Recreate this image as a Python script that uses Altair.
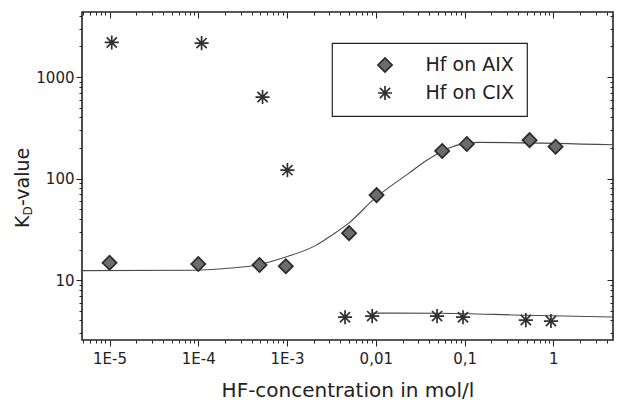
import altair as alt
import pandas as pd

# ---------------- data ----------------
series_names = ["Hf on AIX", "Hf on CIX"]

aix_x = [1.0e-5, 1.0e-4, 4.9e-4, 9.7e-4, 5.0e-3, 0.0102, 0.056, 0.106, 0.54, 1.06]
aix_y = [14.8, 14.4, 14.1, 13.7, 29.0, 68.7, 187.0, 219.0, 239.0, 206.0]

cix_x = [1.06e-5, 1.09e-4, 5.3e-4, 1.01e-3, 4.5e-3, 9.1e-3, 0.049, 0.096, 0.49, 0.94]
cix_y = [2190.0, 2160.0, 635.0, 121.0, 4.31, 4.42, 4.42, 4.31, 4.04, 3.95]

fit_aix_x = [4.9e-6, 9.1e-5, 2.0e-4, 4.9e-4, 8.9e-4, 2.14e-3, 3.24e-3, 5.0e-3,
             0.0101, 0.0142, 0.0237, 0.0368, 0.0477, 0.0668, 0.104, 0.145, 4.7]
fit_aix_y = [12.4, 12.5, 13.0, 14.2, 16.5, 22.1, 27.9, 36.6,
             65.7, 82.4, 113.0, 150.0, 172.0, 200.0, 222.0, 227.0, 215.0]

fit_cix_x = [0.0091, 0.05, 0.5, 4.7]
fit_cix_y = [4.73, 4.72, 4.5, 4.33]

x_major = [1e-5, 1e-4, 1e-3, 1e-2, 1e-1, 1]
y_major = [10, 100, 1000]

X_DOMAIN = [4.9e-6, 4.7]
Y_DOMAIN = [2.57, 4370]

x_minor = [m * 10.0 ** e for e in range(-6, 1) for m in range(2, 10)
           if X_DOMAIN[0] <= m * 10.0 ** e <= X_DOMAIN[1]]
y_minor = [m * 10.0 ** e for e in range(0, 4) for m in range(2, 10)
           if Y_DOMAIN[0] <= m * 10.0 ** e <= Y_DOMAIN[1]]

# ---------------- tables ----------------
pts = pd.DataFrame({
    "x": aix_x + cix_x,
    "y": aix_y + cix_y,
    "series": [series_names[0]] * len(aix_x) + [series_names[1]] * len(cix_x),
})
fit_a = pd.DataFrame({"x": fit_aix_x, "y": fit_aix_y})
fit_c = pd.DataFrame({"x": fit_cix_x, "y": fit_cix_y})

FONT = "DejaVu Sans"
INK = "#222222"
STAR = "M-1,0L1,0M0,-1L0,1M-0.72,-0.72L0.72,0.72M-0.72,0.72L0.72,-0.72"
DEC = "abs(log(datum.value)/LN10 - round(log(datum.value)/LN10)) < 0.001"

xs = alt.Scale(type="log", domain=X_DOMAIN, nice=False)
ys = alt.Scale(type="log", domain=Y_DOMAIN, nice=False)

bottom_axis = alt.Axis(
    values=x_major + x_minor,
    labelExpr="(" + DEC + ") ? (datum.value < 0.005 ? '1E' + round(log(datum.value)/LN10) : "
              "replace(format(datum.value, '~g'), '.', ',')) : ''",
    tickSize={"condition": {"test": DEC, "value": 6}, "value": 3},
    labelPadding=5, grid=False, domain=False, tickColor=INK,
    title="HF-concentration in mol/l", titleFontSize=20, titlePadding=14,
)
left_axis = alt.Axis(
    values=y_major + y_minor,
    labelExpr="(" + DEC + ") ? format(datum.value, 'd') : ''",
    tickSize={"condition": {"test": DEC, "value": 6}, "value": 3},
    labelPadding=2, grid=False, domain=False, tickColor=INK, title=None,
)

legend = alt.Legend(title=None)

points = alt.Chart(pts).mark_point(filled=True, size=200, strokeWidth=1.7, opacity=1).encode(
    x=alt.X("x:Q", scale=xs, axis=bottom_axis),
    y=alt.Y("y:Q", scale=ys, axis=left_axis),
    shape=alt.Shape("series:N", scale=alt.Scale(domain=series_names, range=["diamond", STAR]), legend=legend),
    fill=alt.Fill("series:N", scale=alt.Scale(domain=series_names, range=["#6c6c6c", "transparent"]), legend=legend),
    stroke=alt.Stroke("series:N", scale=alt.Scale(domain=series_names, range=["#2a2a2a", "#303030"]), legend=legend),
)

def mirror_axes(xvals, yvals, size):
    ax = alt.Axis(orient="top", values=xvals, labels=False, title=None, tickSize=size,
                  offset=-size, domain=False, grid=False, tickColor=INK)
    ay = alt.Axis(orient="right", values=yvals, labels=False, title=None, tickSize=size,
                  offset=-size, domain=False, grid=False, tickColor=INK)
    return ax, ay

ax1, ay1 = mirror_axes(x_major, y_major, 6)
ax2, ay2 = mirror_axes(x_minor, y_minor, 3)

line_a = alt.Chart(fit_a).mark_line(color="#4a4a4a", strokeWidth=1.1, interpolate="monotone").encode(
    x=alt.X("x:Q", scale=xs, axis=ax1),
    y=alt.Y("y:Q", scale=ys, axis=ay1),
)
line_c = alt.Chart(fit_c).mark_line(color="#4a4a4a", strokeWidth=1.1, interpolate="monotone").encode(
    x=alt.X("x:Q", scale=xs, axis=ax2),
    y=alt.Y("y:Q", scale=ys, axis=ay2),
)

one = pd.DataFrame({"a": [0]})
def ytitle(txt, size, xpos, ypos):
    return alt.Chart(one).mark_text(text=txt, angle=270, align="left", baseline="middle",
                                    font=FONT, fontSize=size, color=INK).encode(
        x=alt.value(xpos), y=alt.value(ypos))

t_k = ytitle("K", 19, -59, 216)
t_d = ytitle("D", 12, -54, 203.5)
t_v = ytitle("-value", 19, -59, 194)

chart = alt.layer(line_a, line_c, points, t_k, t_d, t_v).resolve_axis(
    x="independent", y="independent"
).properties(
    width=531, height=328,
    padding={"left": 74, "top": 4, "right": 1, "bottom": 60},
    autosize="none",
    background="white",
).configure_view(
    stroke=INK, strokeWidth=1.6
).configure_axis(
    labelFont=FONT, labelFontSize=15, labelColor=INK,
    titleFont=FONT, titleColor=INK, titleFontWeight="normal",
).configure_legend(
    orient="none", legendX=250, legendY=31,
    strokeColor=INK, strokeWidth=1.2, padding=12.5, rowPadding=7,
    labelFont=FONT, labelFontSize=19, labelColor=INK,
    symbolSize=200, symbolOffset=31, labelOffset=31, symbolStrokeWidth=1.7,
)

chart.save("out.html", embed_options={"renderer": "svg", "actions": False})
